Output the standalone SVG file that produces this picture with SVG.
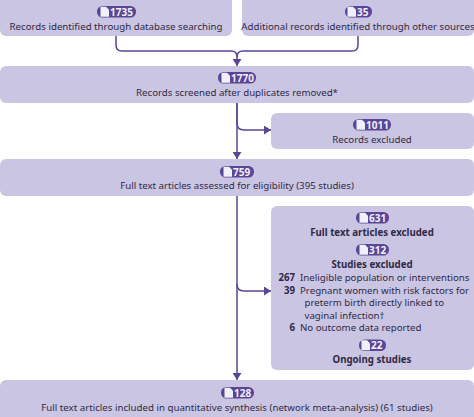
<svg xmlns="http://www.w3.org/2000/svg" width="474" height="417" viewBox="0 0 474 417">
<style>
.box{fill:#cbc5e4}
.t{font-family:"Noto Sans","Liberation Sans",sans-serif;font-size:9.7px;fill:#2f2a45}
.m{text-anchor:middle}
.e{text-anchor:end}
.b{font-weight:700}
.pill{fill:#5a4696}
.pt{font-family:"Noto Sans","Liberation Sans",sans-serif;font-size:10px;font-weight:700;fill:#f1eff9}
.doc{fill:#f1eff9}
.c{fill:none;stroke:#5a4696;stroke-width:1.5}
</style>
<defs>
<marker id="a" markerUnits="userSpaceOnUse" markerWidth="8" markerHeight="9" refX="7" refY="4.500" orient="auto"><path d="M0 0L7 4.500L0 9Z" fill="#5a4696"/></marker>
<path id="d" class="doc" d="M0 0h5.500l3 3v7h-8.500z"/>
</defs>
<g id="connectors">
<path class="c" marker-end="url(#a)" d="M116 36v9q0 6 6 6h109q6 0 6 6v9"/>
<path class="c" d="M358 36v9q0 6-6 6h-109q-6 0-6 6"/>
<path class="c" marker-end="url(#a)" d="M237 103v56"/>
<path class="c" marker-end="url(#a)" d="M237 103v20q0 7 7 7h27"/>
<path class="c" marker-end="url(#a)" d="M237 196v184"/>
<path class="c" marker-end="url(#a)" d="M237 284q0 7 7 7h27"/>
</g>
<g id="n1">
<path class="box" d="M0 0H232V30a6 6 0 0 1-6 6H6a6 6 0 0 1-6-6Z"/>
<rect class="pill" x="97" y="6" width="39" height="11.500" rx="5.500"/><use href="#d" x="100.500" y="6.800"/>
<text class="pt" x="110" y="15.500">1735</text>
<text class="t m" x="116" y="29.500">Records identified through database searching</text>
</g>
<g id="n2">
<path class="box" d="M242 0H474V30a6 6 0 0 1-6 6H248a6 6 0 0 1-6-6Z"/>
<rect class="pill" x="345" y="6" width="27" height="11.500" rx="5.500"/><use href="#d" x="347.500" y="6.800"/>
<text class="pt" x="357" y="15.500">35</text>
<text class="t m" x="358" y="29.500">Additional records identified through other sources</text>
</g>
<g id="n3">
<rect class="box" x="0" y="66" width="474" height="37" rx="6"/>
<rect class="pill" x="218" y="72" width="38" height="11.500" rx="5.500"/><use href="#d" x="221.500" y="72.800"/>
<text class="pt" x="231" y="81.500">1770</text>
<text class="t m" x="237" y="95.500">Records screened after duplicates removed*</text>
</g>
<g id="n4">
<rect class="box" x="271" y="113" width="203" height="36" rx="6"/>
<rect class="pill" x="353" y="119" width="38" height="11.500" rx="5.500"/><use href="#d" x="356.500" y="119.800"/>
<text class="pt" x="366" y="128.500">1011</text>
<text class="t m" x="372" y="143">Records excluded</text>
</g>
<g id="n5">
<rect class="box" x="0" y="159" width="474" height="37" rx="6"/>
<rect class="pill" x="220" y="166" width="34" height="11.500" rx="5.500"/><use href="#d" x="223.500" y="166.800"/>
<text class="pt" x="233" y="175.500">759</text>
<text class="t m" x="237" y="189">Full text articles assessed for eligibility (395 studies)</text>
</g>
<g id="n6">
<rect class="box" x="271" y="206" width="203" height="164" rx="6"/>
<rect class="pill" x="356" y="212" width="33" height="11.500" rx="5.500"/><use href="#d" x="359.500" y="212.800"/>
<text class="pt" x="369" y="221.500">631</text>
<text class="t m b" x="372" y="235.500">Full text articles excluded</text>
<rect class="pill" x="356" y="244" width="33" height="11.500" rx="5.500"/><use href="#d" x="359.500" y="244.800"/>
<text class="pt" x="369" y="253.500">312</text>
<text class="t m b" x="372" y="267.500">Studies excluded</text>
<text class="t e b" x="295" y="280.500">267</text>
<text class="t" x="300" y="280.500">Ineligible population or interventions</text>
<text class="t e b" x="295" y="293.500">39</text>
<text class="t" x="300" y="293.500">Pregnant women with risk factors for</text>
<text class="t" x="304.500" y="306">preterm birth directly linked to</text>
<text class="t" x="304.500" y="318.500">vaginal infection†</text>
<text class="t e b" x="295" y="331">6</text>
<text class="t" x="300" y="331">No outcome data reported</text>
<rect class="pill" x="359" y="339.500" width="27" height="11.500" rx="5.500"/><use href="#d" x="361.500" y="340.300"/>
<text class="pt" x="371" y="349">22</text>
<text class="t m b" x="372" y="363">Ongoing studies</text>
</g>
<g id="n7">
<path class="box" d="M6 380H468a6 6 0 0 1 6 6V417H0V386a6 6 0 0 1 6-6Z"/>
<rect class="pill" x="221" y="387" width="33" height="11.500" rx="5.500"/><use href="#d" x="224.500" y="387.800"/>
<text class="pt" x="234" y="396.500">128</text>
<text class="t m" x="237" y="410.500">Full text articles included in quantitative synthesis (network meta-analysis) (61 studies)</text>
</g>
</svg>
